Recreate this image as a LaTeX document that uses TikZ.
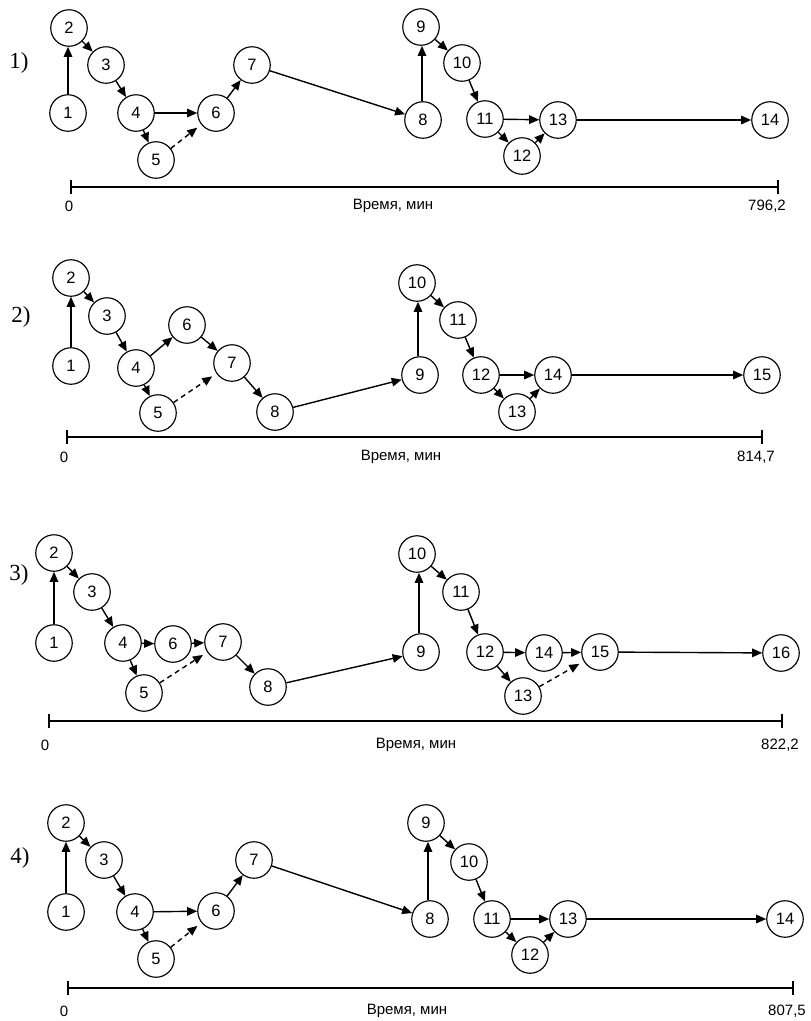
\documentclass[tikz,border=0pt]{standalone}
\usepackage{fontspec}
\setmainfont{Liberation Sans}
\newfontfamily\lblserif{Liberation Serif}
\usetikzlibrary{arrows.meta}
\tikzset{
  ev/.style={circle,draw,line width=1.15pt,minimum size=36.5pt,inner sep=0pt,font=\fontsize{16.5}{19}\selectfont},
  arr/.style={-{Triangle[length=10pt,width=8.5pt]},line width=1.4pt},
  dsh/.style={arr,dashed,dash pattern=on 5pt off 4pt,shorten >=5pt},
  axis/.style={line width=1.2pt},
  txt/.style={font=\fontsize{15}{18}\selectfont,inner sep=0pt},
  plabel/.style={font=\lblserif\fontsize{23}{26}\selectfont,inner sep=0pt}
}
\begin{document}
\begin{tikzpicture}[x=1pt,y=-1pt]
\useasboundingbox (0,0) rectangle (811,1021);
% ---------- Panel 1 ----------
\node[plabel] (p1) at (19,63) {1)};
\node[ev] (a1) at (68,113) {1};
\node[ev] (a2) at (69,28) {2};
\node[ev] (a3) at (106,65) {3};
\node[ev] (a4) at (136,113) {4};
\node[ev] (a5) at (156,160) {5};
\node[ev] (a6) at (216,113) {6};
\node[ev] (a7) at (252,65) {7};
\node[ev] (a8) at (423,120) {8};
\node[ev] (a9) at (421,27) {9};
\node[ev] (a10) at (462,63) {10};
\node[ev] (a11) at (485,119) {11};
\node[ev] (a12) at (522,156) {12};
\node[ev] (a13) at (558,120) {13};
\node[ev] (a14) at (770,120) {14};
\draw[arr] (a1) -- (a1 |- a2.south);
\draw[arr] (a2) -- (a3);
\draw[arr] (a3) -- (a4);
\draw[arr] (a4) -- (a6);
\draw[arr] (a4) -- (a5);
\draw[dsh] (a5) -- (a6);
\draw[arr] (a6) -- (a7);
\draw[arr] (a7) -- (a8);
\draw[arr] (a8.north -| 422,0) -- (a9.south -| 422,0);
\draw[arr] (a9) -- (a10);
\draw[arr] (a10) -- (a11);
\draw[arr] (a11) -- (a13);
\draw[arr] (a11) -- (a12);
\draw[arr] (a12) -- (a13);
\draw[arr] (a13) -- (a14);
\coordinate (ta0) at (71,187);
\coordinate (ta1) at (778,187);
\draw[axis] ([yshift=-7]ta0) -- ([yshift=7]ta0);
\draw[axis] ([yshift=-7]ta1) -- ([yshift=7]ta1);
\draw[axis] (ta0) -- (ta1);
\node[txt] (la0) at (69,206) {0};
\node[txt] (lam) at (393,206) {Время, мин};
\node[txt] (la1) at (767,206) {796,2};
% ---------- Panel 2 ----------
\node[plabel] (p2) at (21,317) {2)};
\node[ev] (b1) at (71,366) {1};
\node[ev] (b2) at (71,278) {2};
\node[ev] (b3) at (107,316) {3};
\node[ev] (b4) at (136,368) {4};
\node[ev] (b5) at (158,413) {5};
\node[ev] (b6) at (187,325) {6};
\node[ev] (b7) at (232,363) {7};
\node[ev] (b8) at (275,412) {8};
\node[ev] (b9) at (420,375) {9};
\node[ev] (b10) at (417,283) {10};
\node[ev] (b11) at (458,320) {11};
\node[ev] (b12) at (481,375) {12};
\node[ev] (b13) at (517,412) {13};
\node[ev] (b14) at (553,375) {14};
\node[ev] (b15) at (762,375) {15};
\draw[arr] (b1) -- (b2);
\draw[arr] (b2) -- (b3);
\draw[arr] (b3) -- (b4);
\draw[arr] (b4) -- (b6);
\draw[arr] (b4) -- (b5);
\draw[dsh] (b5) -- (b7);
\draw[arr] (b6) -- (b7);
\draw[arr] (b7) -- (b8);
\draw[arr] (b8) -- (b9);
\draw[arr] (b9.north -| 418,0) -- (b10.south -| 418,0);
\draw[arr] (b10) -- (b11);
\draw[arr] (b11) -- (b12);
\draw[arr] (b12) -- (b14);
\draw[arr] (b12) -- (b13);
\draw[arr] (b13) -- (b14);
\draw[arr] (b14) -- (b15);
\coordinate (tb0) at (67,437);
\coordinate (tb1) at (762,437);
\draw[axis] ([yshift=-7]tb0) -- ([yshift=7]tb0);
\draw[axis] ([yshift=-7]tb1) -- ([yshift=7]tb1);
\draw[axis] (tb0) -- (tb1);
\node[txt] (lb0) at (64,457) {0};
\node[txt] (lbm) at (401,457) {Время, мин};
\node[txt] (lb1) at (756,457) {814,7};
% ---------- Panel 3 ----------
\node[plabel] (p3) at (19,575) {3)};
\node[ev] (c1) at (54,643) {1};
\node[ev] (c2) at (54,553) {2};
\node[ev] (c3) at (92,592) {3};
\node[ev] (c4) at (123,643) {4};
\node[ev] (c5) at (144,693) {5};
\node[ev] (c6) at (173,644) {6};
\node[ev] (c7) at (223,642) {7};
\node[ev] (c8) at (268,687) {8};
\node[ev] (c9) at (421,652) {9};
\node[ev] (c10) at (417,554) {10};
\node[ev] (c11) at (461,592) {11};
\node[ev] (c12) at (485,652) {12};
\node[ev] (c13) at (523,696) {13};
\node[ev] (c14) at (544,653) {14};
\node[ev] (c15) at (600,652) {15};
\node[ev] (c16) at (781,653) {16};
\draw[arr] (c1) -- (c2);
\draw[arr] (c2) -- (c3);
\draw[arr] (c3) -- (c4);
\draw[arr] (c4) -- (c6);
\draw[arr] (c4) -- (c5);
\draw[dsh] (c5) -- (c7);
\draw[arr] (c6) -- (c7);
\draw[arr] (c7) -- (c8);
\draw[arr] (c8) -- (c9);
\draw[arr] (c9.north -| 419,0) -- (c10.south -| 419,0);
\draw[arr] (c10) -- (c11);
\draw[arr] (c11) -- (c12);
\draw[arr] (c12) -- (c14);
\draw[arr] (c12) -- (c13);
\draw[dsh] (c13) -- (c15);
\draw[arr] (c14) -- (c15);
\draw[arr] (c15) -- (c16);
\coordinate (tc0) at (49,721);
\coordinate (tc1) at (782,721);
\draw[axis] ([yshift=-7]tc0) -- ([yshift=7]tc0);
\draw[axis] ([yshift=-7]tc1) -- ([yshift=7]tc1);
\draw[axis] (tc0) -- (tc1);
\node[txt] (lc0) at (45,745) {0};
\node[txt] (lcm) at (416,745) {Время, мин};
\node[txt] (lc1) at (780,745) {822,2};
% ---------- Panel 4 ----------
\node[plabel] (p4) at (20,858) {4)};
\node[ev] (d1) at (66,912) {1};
\node[ev] (d2) at (66,823) {2};
\node[ev] (d3) at (104,860) {3};
\node[ev] (d4) at (135,912) {4};
\node[ev] (d5) at (156,959) {5};
\node[ev] (d6) at (216,911) {6};
\node[ev] (d7) at (254,860) {7};
\node[ev] (d8) at (430,919) {8};
\node[ev] (d9) at (426,823) {9};
\node[ev] (d10) at (469,862) {10};
\node[ev] (d11) at (492,919) {11};
\node[ev] (d12) at (530,955) {12};
\node[ev] (d13) at (568,919) {13};
\node[ev] (d14) at (785,919) {14};
\draw[arr] (d1) -- (d2);
\draw[arr] (d2) -- (d3);
\draw[arr] (d3) -- (d4);
\draw[arr] (d4) -- (d6);
\draw[arr] (d4) -- (d5);
\draw[dsh] (d5) -- (d6);
\draw[arr] (d6) -- (d7);
\draw[arr] (d7) -- (d8);
\draw[arr] (d8.north -| 428,0) -- (d9.south -| 428,0);
\draw[arr] (d9) -- (d10);
\draw[arr] (d10) -- (d11);
\draw[arr] (d11) -- (d13);
\draw[arr] (d11) -- (d12);
\draw[arr] (d12) -- (d13);
\draw[arr] (d13) -- (d14);
\coordinate (td0) at (68,988);
\coordinate (td1) at (793,988);
\draw[axis] ([yshift=-7]td0) -- ([yshift=7]td0);
\draw[axis] ([yshift=-7]td1) -- ([yshift=7]td1);
\draw[axis] (td0) -- (td1);
\node[txt] (ld0) at (64,1011) {0};
\node[txt] (ldm) at (407,1011) {Время, мин};
\node[txt] (ld1) at (787,1011) {807,5};
\end{tikzpicture}
\end{document}
